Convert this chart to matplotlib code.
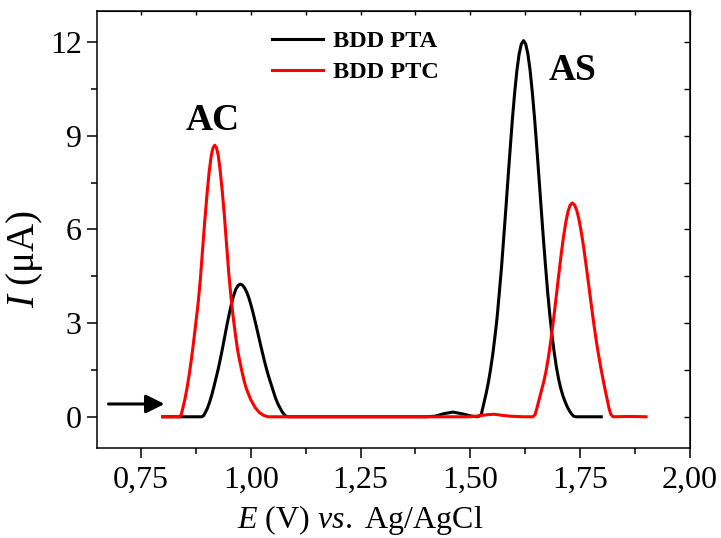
import matplotlib
matplotlib.use('Agg')
import matplotlib.pyplot as plt
from matplotlib.ticker import MultipleLocator, FuncFormatter

plt.rcParams['font.family'] = ['Liberation Serif', 'DejaVu Serif']
plt.rcParams['mathtext.fontset'] = 'custom'
plt.rcParams['mathtext.rm'] = 'Liberation Serif'
plt.rcParams['mathtext.it'] = 'Liberation Serif:italic'

# BDD PTA (black)
pta_E = [0.800, 0.850, 0.889, 0.893, 0.896, 0.901, 0.906, 0.911, 0.916, 0.921, 0.926,
         0.931, 0.936, 0.941, 0.946, 0.951, 0.956, 0.961, 0.966, 0.971, 0.976, 0.981,
         0.986, 0.991, 0.996, 1.001, 1.006, 1.011, 1.016, 1.021, 1.026, 1.031, 1.036,
         1.041, 1.046, 1.051, 1.056, 1.061, 1.066, 1.071, 1.076, 1.080, 1.085, 1.150,
         1.250, 1.350, 1.400, 1.420, 1.440, 1.460, 1.480, 1.500, 1.515, 1.520, 1.525,
         1.531, 1.536, 1.541, 1.546, 1.551, 1.556, 1.561, 1.566, 1.571, 1.576, 1.581,
         1.586, 1.591, 1.596, 1.601, 1.606, 1.611, 1.616, 1.621, 1.626, 1.631, 1.636,
         1.641, 1.646, 1.651, 1.656, 1.661, 1.666, 1.671, 1.676, 1.681, 1.686, 1.691,
         1.696, 1.701, 1.706, 1.711, 1.716, 1.721, 1.726, 1.731, 1.735, 1.740, 1.798]
pta_I = [0.00, 0.00, 0.00, 0.04, 0.12, 0.26, 0.45, 0.68, 0.95, 1.24, 1.53,
         1.86, 2.21, 2.58, 2.95, 3.29, 3.61, 3.88, 4.08, 4.20, 4.25, 4.22,
         4.13, 3.99, 3.80, 3.56, 3.29, 3.00, 2.70, 2.39, 2.09, 1.80, 1.53,
         1.28, 1.06, 0.84, 0.62, 0.44, 0.30, 0.17, 0.08, 0.02, 0.00, 0.00,
         0.00, 0.00, 0.00, 0.02, 0.10, 0.15, 0.10, 0.03, 0.00, 0.02, 0.08,
         0.45, 0.75, 1.10, 1.52, 2.00, 2.57, 3.20, 3.99, 4.80, 5.75, 6.70,
         7.70, 8.65, 9.59, 10.40, 11.10, 11.62, 11.94, 12.05, 11.94, 11.62, 11.10,
         10.40, 9.59, 8.67, 7.70, 6.72, 5.75, 4.85, 3.99, 3.25, 2.60, 2.05,
         1.58, 1.20, 0.90, 0.66, 0.47, 0.31, 0.18, 0.08, 0.02, 0.00, 0.00]

# BDD PTC (red)
ptc_E = [0.800, 0.839, 0.842, 0.845, 0.850, 0.855, 0.860, 0.865, 0.870, 0.875, 0.880,
         0.885, 0.890, 0.895, 0.900, 0.905, 0.910, 0.914, 0.918, 0.922, 0.926, 0.930,
         0.935, 0.940, 0.945, 0.950, 0.955, 0.960, 0.965, 0.970, 0.975, 0.980, 0.985,
         0.990, 1.000, 1.010, 1.020, 1.030, 1.040, 1.150, 1.300, 1.450, 1.500, 1.520,
         1.540, 1.555, 1.570, 1.590, 1.620, 1.642, 1.647, 1.652, 1.657, 1.662, 1.667,
         1.672, 1.677, 1.682, 1.687, 1.692, 1.697, 1.702, 1.707, 1.712, 1.717, 1.722,
         1.727, 1.732, 1.737, 1.742, 1.747, 1.752, 1.757, 1.762, 1.767, 1.772, 1.777,
         1.782, 1.787, 1.792, 1.797, 1.802, 1.807, 1.812, 1.816, 1.820, 1.825, 1.860,
         1.900]
ptc_I = [0.00, 0.00, 0.08, 0.25, 0.55, 0.92, 1.35, 1.85, 2.40, 3.00, 3.60,
         4.35, 5.28, 6.20, 7.05, 7.80, 8.35, 8.61, 8.70, 8.62, 8.38, 7.95,
         7.25, 6.45, 5.52, 4.60, 3.85, 3.20, 2.65, 2.15, 1.78, 1.45, 1.15,
         0.90, 0.55, 0.30, 0.13, 0.04, 0.00, 0.00, 0.00, 0.00, 0.00, 0.03,
         0.07, 0.08, 0.05, 0.02, 0.00, 0.00, 0.06, 0.30, 0.58, 0.85, 1.12,
         1.44, 1.85, 2.32, 2.85, 3.43, 4.03, 4.64, 5.23, 5.76, 6.21, 6.56,
         6.78, 6.85, 6.79, 6.62, 6.34, 5.96, 5.52, 5.01, 4.48, 3.94, 3.40,
         2.88, 2.40, 1.97, 1.57, 1.20, 0.85, 0.52, 0.25, 0.07, 0.00, 0.01,
         0.00]

fig = plt.figure(figsize=(7.21, 5.38), dpi=100)
ax = fig.add_axes([0.1345, 0.1673, 0.8225, 0.8123])

ax.plot(pta_E, pta_I, color='black', lw=2.2, label='BDD PTA')
ax.plot(ptc_E, ptc_I, color='red', lw=2.2, label='BDD PTC')

ax.set_xlim(0.65, 2.0)
ax.set_ylim(-1.0, 13.0)
ax.xaxis.set_major_locator(MultipleLocator(0.25))
ax.xaxis.set_minor_locator(MultipleLocator(0.125))
ax.yaxis.set_major_locator(MultipleLocator(3))
ax.yaxis.set_minor_locator(MultipleLocator(1.5))
ax.xaxis.set_major_formatter(FuncFormatter(lambda v, p: f'{v:.2f}'.replace('.', ',')))

for s in ax.spines.values():
    s.set_linewidth(1.1)
ax.tick_params(which='both', direction='out', labelsize=23, width=1.1,
               top=False, right=False)
ax.tick_params(which='major', length=7)
ax.tick_params(which='minor', length=4)
ax.tick_params(axis='x', which='major', pad=6)
ax.tick_params(axis='y', which='major', pad=4)
# mirrored inward ticks on top/right
ax2 = ax.secondary_xaxis('top')
ax2.xaxis.set_major_locator(MultipleLocator(0.25))
ax2.xaxis.set_minor_locator(MultipleLocator(0.125))
ax2.tick_params(which='both', direction='in', length=3, width=1.0, labeltop=False)
ay2 = ax.secondary_yaxis('right')
ay2.yaxis.set_major_locator(MultipleLocator(3))
ay2.yaxis.set_minor_locator(MultipleLocator(1.5))
ay2.tick_params(which='both', direction='in', length=4, width=1.0, labelright=False)

ax.set_xlabel(r'$E$ (V) $vs.$ Ag/AgCl', fontsize=23)
ax.set_ylabel(r'$I$ (μA)', fontsize=28)
ax.xaxis.set_label_coords(0.4435, -0.125)
ax.yaxis.set_label_coords(-0.088, 0.432)

ax.text(0.914, 9.49, 'AC', fontsize=27, fontweight='bold', ha='center', va='center')
ax.text(1.732, 11.09, 'AS', fontsize=27, fontweight='bold', ha='center', va='center')

ax.annotate('', xy=(0.81, 0.41), xytext=(0.67, 0.41),
            arrowprops=dict(arrowstyle='-|>', lw=2.2, color='black', mutation_scale=28))

leg = ax.legend(loc='upper left', bbox_to_anchor=(0.259, 1.006), frameon=False,
                prop={'weight': 'bold', 'size': 17.5}, handlelength=2.1,
                handletextpad=0.38, labelspacing=0.37)

fig.savefig('out.png', dpi=100)
